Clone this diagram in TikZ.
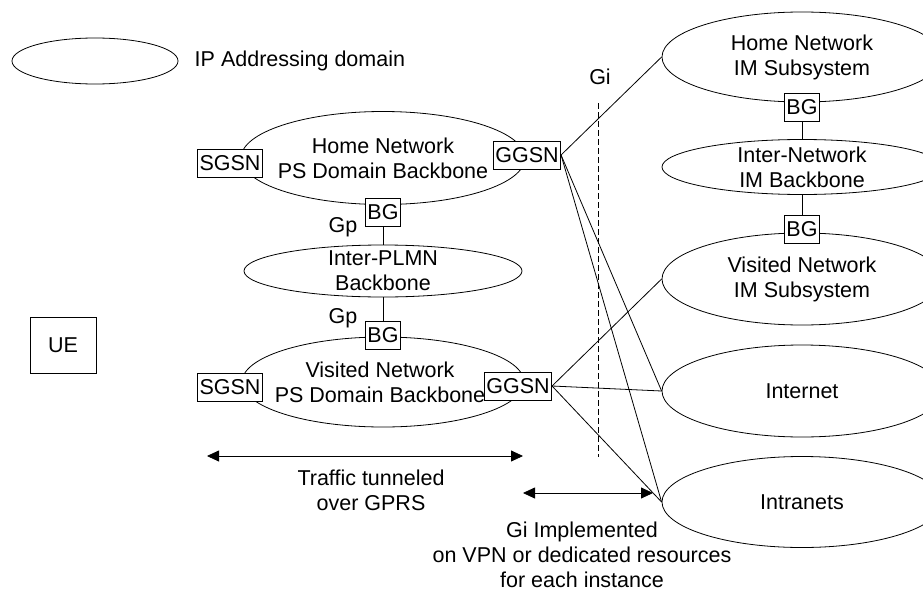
\documentclass[tikz,border=0pt]{standalone}
\usepackage{fontspec}
\setmainfont{Liberation Sans}
\usetikzlibrary{shapes.geometric}
\usetikzlibrary{arrows.meta}

\begin{document}
\begin{tikzpicture}[x=1pt,y=-1pt,line width=.8pt,
    font=\fontsize{21.5}{25}\selectfont,
    ipdom/.style={ellipse, draw, inner sep=0pt},
    gwbox/.style={draw, fill=white, inner xsep=2pt, inner ysep=0pt,
        text height=16pt, text depth=.5pt, minimum height=28pt},
    conn/.style={line width=.8pt},
    twoway/.style={{Triangle[length=12pt,width=11pt]}-{Triangle[length=12pt,width=11pt]}, line width=.8pt}]

\useasboundingbox (0,0) rectangle (923,594);

% legend
\node [ipdom, minimum width=166pt, minimum height=46pt] (legend) at (95,61) {};
\node [anchor=west] (legendtxt) at (191,61) {IP Addressing domain};

% Gi reference line
\node (gilabel) at (600,77) {Gi};
\coordinate (gitop) at (598,103);
\coordinate (gibot) at (598,457);
\draw [dash pattern=on 6pt off 3pt] (gitop) -- (gibot);

% PS domain side
\node [ipdom, minimum width=284pt, minimum height=93pt,
    label={[align=center]center:Home Network\\PS Domain Backbone}] (homeps) at (383,158) {};
\node [ipdom, minimum width=278pt, minimum height=52pt,
    label={[align=center]center:Inter-PLMN\\Backbone}] (plmn) at (383,271) {};
\node [ipdom, minimum width=282pt, minimum height=90pt,
    label={[align=center,xshift=-3pt]center:Visited Network\\PS Domain Backbone}] (visps) at (383,382) {};

\node [gwbox] (sgsnh) at (230,163) {SGSN};
\node [gwbox] (ggsnh) at (527,155) {GGSN};
\node [gwbox] (bgh) at (383,212) {BG};
\node at (343,227) (gph) {Gp};
\node [gwbox] (bgv) at (383,335) {BG};
\node at (343,318) (gpv) {Gp};
\node [gwbox] (sgsnv) at (230,387) {SGSN};
\node [gwbox] (ggsnv) at (518,386) {GGSN};

\draw [conn] (bgh) -- (plmn);
\draw [conn] (plmn) -- (bgv);

\node [draw, minimum width=66pt, minimum height=56pt] (ue) at (63,345) {UE};

% IM subsystem side
\node [ipdom, minimum width=280pt, minimum height=90pt,
    label={[align=center]center:Home Network\\IM Subsystem}] (himsub) at (802,57) {};
\node [ipdom, minimum width=280pt, minimum height=55pt,
    label={[align=center]center:Inter-Network\\IM Backbone}] (imbb) at (802,167) {};
\node [ipdom, minimum width=280pt, minimum height=92pt,
    label={[align=center]center:Visited Network\\IM Subsystem}] (vimsub) at (802,279) {};
\node [ipdom, minimum width=280pt, minimum height=92pt] (internet) at (802,391) {Internet};
\node [ipdom, minimum width=280pt, minimum height=91pt] (intranet) at (802,502) {Intranets};

\node [gwbox] (bgim1) at (802,107) {BG};
\node [gwbox] (bgim2) at (802,229) {BG};
\draw [conn] (bgim1) -- (imbb);
\draw [conn] (imbb) -- (bgim2);

% Gi links
\draw [conn] (ggsnh.east) -- (himsub.west);
\draw [conn] (ggsnh.east) -- (internet.west);
\draw [conn] (ggsnh.east) -- (intranet.west);
\draw [conn] (ggsnv.east) -- (vimsub.west);
\draw [conn] (ggsnv.east) -- (internet.west);
\draw [conn] (ggsnv.east) -- (intranet.west);

% extents
\coordinate (tunl) at (207,456);
\coordinate (tunr) at (523,456);
\draw [twoway] (tunl) -- (tunr);
\node [align=center] (tuntxt) at (371,490) {Traffic tunneled\\over GPRS};

\coordinate (vpnl) at (523,493);
\coordinate (vpnr) at (653,493);
\draw [twoway] (vpnl) -- (vpnr);
\node [align=center] (vpntxt) at (582,555) {Gi Implemented\\on VPN or dedicated resources\\for each instance};
\end{tikzpicture}
\end{document}
